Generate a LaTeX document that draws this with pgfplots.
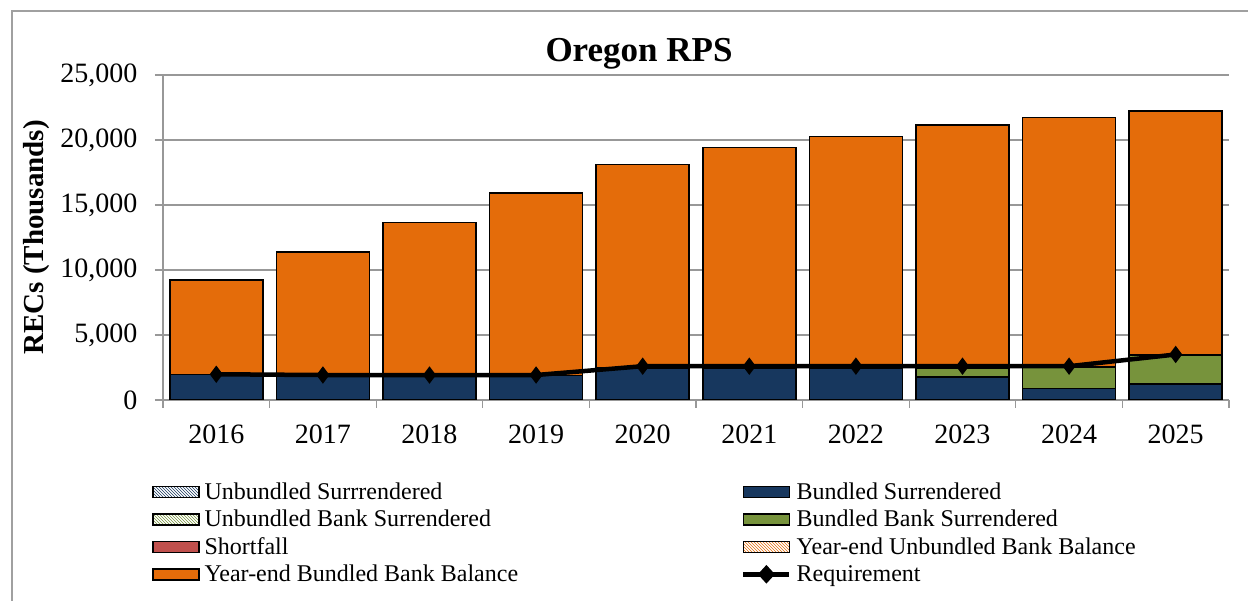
\documentclass[border=0pt]{standalone}
\usepackage{fontspec}
\setmainfont{Liberation Serif}
\usepackage{pgfplots}
\usepackage{pgfplotstable}
\pgfplotsset{compat=1.18}
\usetikzlibrary{patterns}
\definecolor{navy}{RGB}{23,55,94}
\definecolor{olive}{RGB}{119,147,60}
\definecolor{orng}{RGB}{228,108,10}
\definecolor{shred}{RGB}{192,80,77}
\definecolor{gridgray}{RGB}{152,152,152}
\definecolor{framegray}{RGB}{160,160,160}
\pgfplotsset{
  sq/.style={legend image code/.code={\draw[##1,line width=1.5pt] (0pt,-5.5pt) rectangle (46pt,5.5pt);}},
  reqlegend/.style={legend image code/.code={\draw[##1,mark=none] (0pt,0pt) -- (46pt,0pt);
      \fill[black] (23pt,6pt) -- (28.5pt,0pt) -- (23pt,-6pt) -- (17.5pt,0pt) -- cycle;}},
}
\pgfplotstableread{
x z bs bbs ybb req
0 0 1970 0 7265 1980
1 0 1900 0 9500 1920
2 0 1900 0 11748 1920
3 0 1900 0 14018 1920
4 0 2450 0 15662 2600
5 0 2450 0 16989 2600
6 0 2450 0 17831 2600
7 0 1750 700 18698 2600
8 0 900 1650 19185 2600
9 0 1230 2250 18765 3500
}\datatable
\begin{document}
\begin{tikzpicture}[x=1pt,y=1pt]
\useasboundingbox (0,0) rectangle (1248,601);
\draw[framegray, line width=1.5pt] (12,-5) -- (12,590) -- (1260,590);
\node[font=\bfseries\fontsize{35}{42}\selectfont, anchor=base] at (639,539) {Oregon RPS};
\begin{axis}[
  at={(163pt,201pt)}, anchor=south west,
  scale only axis, width=1066pt, height=325pt,
  ybar stacked, bar width=93pt,
  xmin=-0.5, xmax=9.5, ymin=0, ymax=25000,
  xtick={-0.5,0.5,...,9.5},
  xticklabels={},
  extra x ticks={0,1,2,3,4,5,6,7,8,9},
  extra x tick labels={2016,2017,2018,2019,2020,2021,2022,2023,2024,2025},
  extra x tick style={major tick length=0pt, tick style={draw=none}, tick label style={yshift=-21pt}},
  ytick={0,5000,10000,15000,20000,25000},
  yticklabel style={xshift=-14pt},
  scaled y ticks=false,
  /pgf/number format/1000 sep={,},
  /pgf/number format/assume math mode=true,
  tick align=outside, tick pos=left,
  major tick length=8pt,
  tick style={gridgray, line width=1.3pt},
  axis x line*=bottom, axis y line*=left,
  axis line style={gridgray, line width=1.3pt, -},
  ymajorgrids, major grid style={gridgray, line width=1.3pt},
  ticklabel style={font=\fontsize{28}{34}\selectfont},
  ylabel={RECs (Thousands)},
  ylabel style={at={(axis description cs:-0.1182,0.5)}, anchor=center, font=\bfseries\fontsize{29}{35}\selectfont},
  legend columns=2,
  legend style={at={(axis description cs:-0.01032,-0.252)}, anchor=north west, draw=none, fill=none,
    inner sep=0pt, outer sep=0pt, font=\fontsize{24}{28}\selectfont,
    nodes={inner sep=1pt}, row sep=7.2pt,
    /tikz/every odd column/.append style={column sep=4pt},
    /tikz/every even column/.append style={column sep=222pt}},
  legend cell align=left,
]
\addplot[draw=black, line width=1.5pt, pattern=north west lines, pattern color=navy, sq] table[x=x, y=z] {\datatable};
\addlegendentry{Unbundled Surrrendered}
\addplot[draw=black, line width=1.5pt, fill=navy, sq] table[x=x, y=bs] {\datatable};
\addlegendentry{Bundled Surrendered}
\addplot[draw=black, line width=1.5pt, pattern=north west lines, pattern color=olive, sq] table[x=x, y=z] {\datatable};
\addlegendentry{Unbundled Bank Surrendered}
\addplot[draw=black, line width=1.5pt, fill=olive, sq] table[x=x, y=bbs] {\datatable};
\addlegendentry{Bundled Bank Surrendered}
\addplot[draw=black, line width=1.5pt, fill=shred, sq] table[x=x, y=z] {\datatable};
\addlegendentry{Shortfall}
\addplot[draw=black, line width=1.5pt, pattern=north west lines, pattern color=orng, sq] table[x=x, y=z] {\datatable};
\addlegendentry{Year-end Unbundled Bank Balance}
\addplot[draw=black, line width=1.5pt, fill=orng, sq] table[x=x, y=ybb] {\datatable};
\addlegendentry{Year-end Bundled Bank Balance}
\addlegendimage{black, line width=4.5pt, reqlegend}
\addlegendentry{Requirement}
\end{axis}
\begin{axis}[
  at={(163pt,201pt)}, anchor=south west,
  scale only axis, width=1066pt, height=325pt,
  xmin=-0.5, xmax=9.5, ymin=0, ymax=25000, hide axis,
]
\addplot[black, line width=4.5pt, mark=diamond*, mark size=5pt] table[x=x, y=req] {\datatable};
\end{axis}
\end{tikzpicture}
\end{document}
